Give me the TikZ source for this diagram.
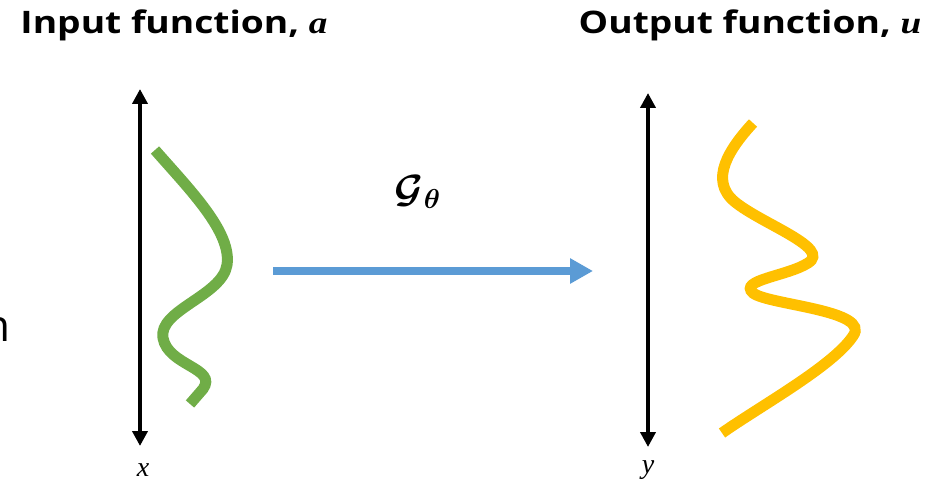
\documentclass[tikz,border=0pt]{standalone}
\usepackage{amsmath, amssymb, bm, graphicx}
\usepackage{fontspec}
\setmainfont{Open Sans}
\newfontfamily\varfont{Liberation Serif}
\usetikzlibrary{arrows.meta}
\newcommand{\widetitle}[1]{\scalebox{1.2}[1]{#1}}

\begin{document}
\begin{tikzpicture}[x=1pt,y=-1pt]
  \definecolor{colorin}{RGB}{112,173,71}
  \definecolor{colorout}{RGB}{255,192,0}
  \definecolor{colormap}{RGB}{91,155,213}

  \useasboundingbox (0,0) rectangle (935,489);
  \tikzset{
    axis/.style={line width=4pt, {Triangle[width=15pt,length=15pt]}-{Triangle[width=15pt,length=15pt]}},
    func/.style={line width=11pt},
    title/.style={font=\fontsize{31}{36}\selectfont\bfseries, inner sep=0pt},
    varlab/.style={font=\fontsize{28}{32}\selectfont\varfont\itshape, inner sep=0pt}
  }

  \node[title] (intitle) at (174,25) {\widetitle{Input function, {\varfont\itshape a}}};
  \node[title] (outtitle) at (750,25) {\widetitle{Output function, {\varfont\itshape u}}};
  \node[font=\fontsize{44}{50}\selectfont, anchor=east, inner sep=0pt] (cut) at (11,330) {n};

  % left axis
  \coordinate (xtop) at (140,89);
  \coordinate (xbot) at (140,446);
  \draw[axis] (xbot) -- (xtop);
  \node[varlab] (xlab) at (143,470) {x};

  % right axis
  \coordinate (ytop) at (648,93);
  \coordinate (ybot) at (648,447);
  \draw[axis] (ybot) -- (ytop);
  \node[varlab] (ylab) at (648,470) {y};

  % input function
  \draw[func, colorin] (155,150) .. controls (190,190) and (232,232) .. (227,265)
    .. controls (222,296) and (158,310) .. (163,338)
    .. controls (168,366) and (218,368) .. (203,389) -- (190,404);

  % output function
  \draw[func, colorout] (753,123) .. controls (730,148) and (708,180) .. (735,202)
    .. controls (762,224) and (832,248) .. (808,263)
    .. controls (788,276) and (738,280) .. (753,293)
    .. controls (768,305) and (872,310) .. (853,336)
    .. controls (833,366) and (762,405) .. (722,433);

  % operator
  \coordinate (mapstart) at (273,271);
  \coordinate (mapend) at (593,271);
  \draw[colormap, line width=8pt, -{Triangle[width=24pt,length=23pt]}] (mapstart) -- (mapend);
  \node[font=\huge, scale=1.9] (op) at (418,192) {$\bm{\mathcal{G}}_{\bm{\theta}}$};

\end{tikzpicture}
\end{document}
